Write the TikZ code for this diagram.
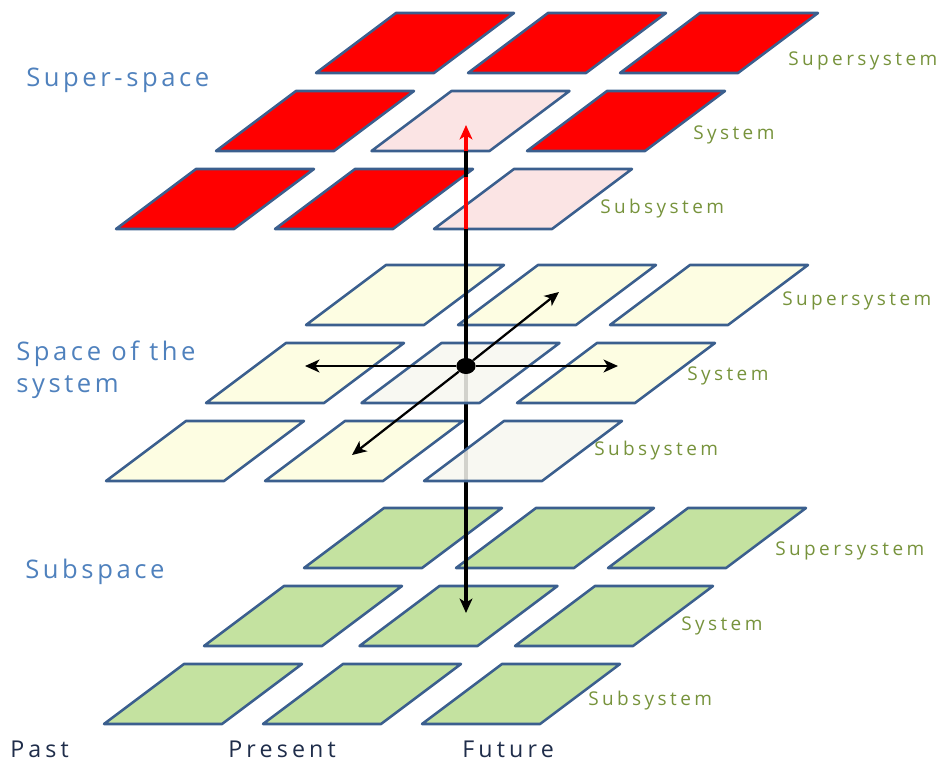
\documentclass[tikz,border=0pt]{standalone}
\usepackage{fontspec}
\usepackage{xcolor}
\usepackage{tikz}
\usetikzlibrary{arrows.meta,positioning,shapes.geometric}
\newfontfamily\spacefont[LetterSpace=14]{Open Sans}
\newfontfamily\levelfont[LetterSpace=18]{Open Sans}
\newfontfamily\timefont[LetterSpace=18]{Open Sans}
\definecolor{CellLine}{HTML}{3B5F8E}
\definecolor{SuperRed}{HTML}{FF0000}
\definecolor{SoftPink}{HTML}{FBE4E4}
\definecolor{PaleYellow}{HTML}{FDFDE2}
\definecolor{PaleWhite}{HTML}{F7F7F0}
\definecolor{LeafGreen}{HTML}{C4E2A0}
\definecolor{SpaceBlue}{HTML}{4F81BD}
\definecolor{LevelGreen}{HTML}{77933C}
\definecolor{TimeNavy}{HTML}{1F2D4A}

\begin{document}
\begin{tikzpicture}[
    x=0.025cm, y=-0.025cm,
    cell/.style={draw=CellLine, line width=1.8pt, line join=round},
    redcell/.style={cell, fill=SuperRed},
    yelcell/.style={cell, fill=PaleYellow},
    grncell/.style={cell, fill=LeafGreen},
    pinkcell/.style={cell, fill=SoftPink},
    palecell/.style={cell, fill=PaleWhite, fill opacity=0.85},
    spacelbl/.style={font=\spacefont\fontsize{18.2}{22.7}\selectfont, text=SpaceBlue, anchor=base west, inner sep=0pt, align=left},
    levellbl/.style={font=\levelfont\fontsize{13.5}{15}\selectfont, text=LevelGreen, anchor=base west, inner sep=0pt},
    timelbl/.style={font=\timefont\fontsize{16.5}{19}\selectfont, text=TimeNavy, anchor=base west, inner sep=0pt},
    arr/.style={-{Stealth[length=3.6mm, width=3.2mm, inset=1mm]}, line width=1.6pt},
    vline/.style={line width=2.3pt},
    hubdot/.style={ellipse, fill=black, minimum width=0.48cm, minimum height=0.4cm, inner sep=0pt}
]
\useasboundingbox (0,0) rectangle (944,762);

% three layers of 3x3 cells, pale cells are drawn later
\foreach \lx/\ly/\lstyle/\lskip in {316/73/redcell/1, 306/325/yelcell/1, 304/568/grncell/0}
  \foreach \r in {0,1,2}
    \foreach \c in {0,1,2} {
      \pgfmathtruncatemacro\isPale{\lskip*(((\r==1)&&(\c==1)) || ((\r==2)&&(\c==2)))}
      \ifnum\isPale=0
        \pgfmathsetmacro\bx{\lx - 100*\r + (152+3.5*\r)*\c}
        \pgfmathsetmacro\by{\ly + 78*\r}
        \draw[\lstyle] (\bx,\by) -- ++(118,0) -- ++(80,-60) -- ++(-118,0) -- cycle;
      \fi
    }

% pink cells of the super-space
\draw[pinkcell] (371.5,151) -- ++(118,0) -- ++(80,-60) -- ++(-118,0) -- cycle;
\draw[pinkcell] (434,229) -- ++(118,0) -- ++(80,-60) -- ++(-118,0) -- cycle;

% hub and arrow ends
\node[hubdot] (hub) at (466,366) {};
\coordinate (upTip) at (466,125);
\coordinate (downTip) at (466,613);
\coordinate (leftTip) at (305,366);
\coordinate (rightTip) at (618,366);
\coordinate (urTip) at (559,292);
\coordinate (llTip) at (352,455);
\coordinate (redStart) at (466,229);
\coordinate (gapTop) at (466,151);
\coordinate (gapBot) at (466,177);

% downward arrow runs under the pale cells
\draw[arr, vline] (hub.center) -- (downTip);

% pale cells of the space of the system
\draw[palecell] (361.5,403) -- ++(118,0) -- ++(80,-60) -- ++(-118,0) -- cycle;
\draw[palecell] (424,481) -- ++(118,0) -- ++(80,-60) -- ++(-118,0) -- cycle;

% upward arrow, red inside the super-space
\draw[vline] (hub.center) -- (redStart);
\draw[arr, vline, draw=SuperRed, fill=SuperRed] (redStart) -- (upTip);
\draw[vline] (gapTop) -- (gapBot);

% arrows inside the space of the system
\draw[arr] (hub) -- (leftTip);
\draw[arr] (hub) -- (rightTip);
\draw[arr] (hub) -- (urTip);
\draw[arr] (hub) -- (llTip);
\node[hubdot] at (hub) {};

% space labels
\node[spacelbl] (superspace) at (26,87) {Super-space};
\node[spacelbl] (sysspace) at (16,392) {Space of the\\system};
\node[spacelbl] (subspace) at (25,578) {Subspace};

% level labels
\node[levellbl] (supT) at (788,65) {Supersystem};
\node[levellbl] (sysT) at (693,139) {System};
\node[levellbl] (subT) at (600,213) {Subsystem};
\node[levellbl] (supM) at (782,305) {Supersystem};
\node[levellbl] (sysM) at (687,380) {System};
\node[levellbl] (subM) at (594,455) {Subsystem};
\node[levellbl] (supB) at (775,555) {Supersystem};
\node[levellbl] (sysB) at (681,630) {System};
\node[levellbl] (subB) at (588,705) {Subsystem};

% time labels
\node[timelbl] (past) at (10,757) {Past};
\node[timelbl] (present) at (228,757) {Present};
\node[timelbl] (future) at (462,757) {Future};
\end{tikzpicture}
\end{document}
